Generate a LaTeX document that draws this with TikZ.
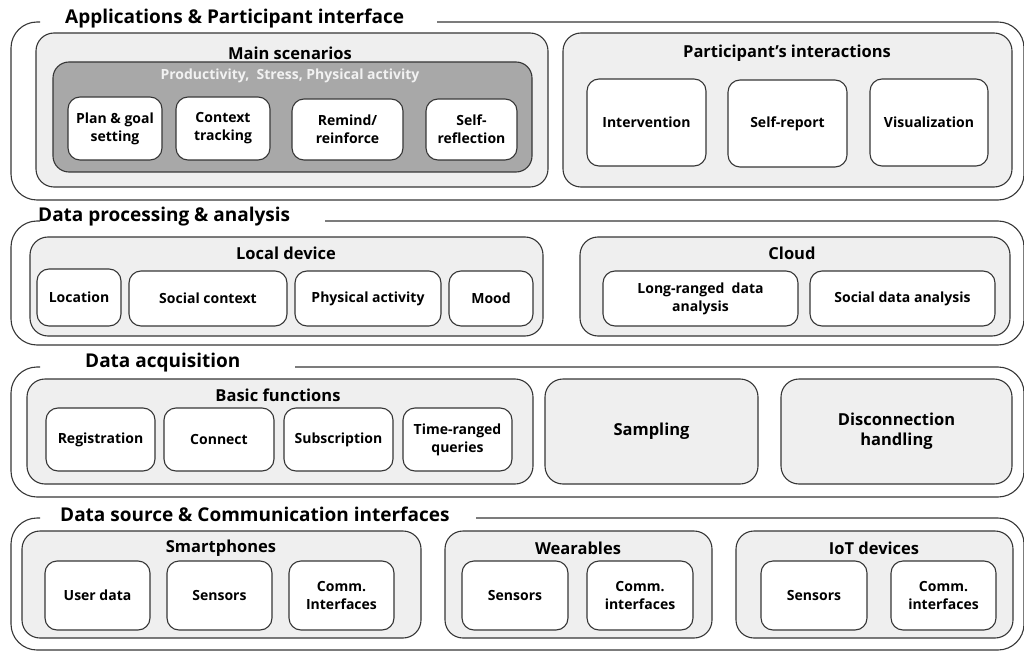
\documentclass[tikz,border=0pt]{standalone}
\usepackage{fontspec}
\setmainfont{Open Sans}
\definecolor{lc}{HTML}{363636}
\definecolor{lg}{HTML}{EFEFEF}
\definecolor{dg}{HTML}{A8A8A8}
\definecolor{lt}{HTML}{F2F2F2}
\newcommand\wb[6]{\node[wbox, minimum width={#4pt-#2pt}, minimum height={#5pt-#3pt}] (#1) at ({(#2+#4)/2},{(#3+#5)/2}) {#6};}
\newcommand\gb[7][grp]{\node[#1, minimum width={#5pt-#3pt}, minimum height={#6pt-#4pt}] (#2) at ({(#3+#5)/2},{(#4+#6)/2}) {#7};}
\begin{document}
\begin{tikzpicture}[x=1pt,y=-1pt,
  layer/.style={draw=lc, line width=1.1pt, rounded corners=26pt},
  grp/.style={draw=lc, fill=lg, line width=1.1pt, rounded corners=18pt, inner sep=0pt},
  grpt/.style={grp, align=center, font=\fontsize{16.5}{20}\selectfont\bfseries},
  dark/.style={draw=lc, fill=dg, line width=1.1pt, rounded corners=16pt, inner sep=0pt},
  wbox/.style={draw=lc, fill=white, line width=1.1pt, rounded corners=12pt, align=center, font=\fontsize{14}{18}\selectfont\bfseries, inner sep=0pt},
  ltitle/.style={font=\fontsize{19}{22}\selectfont\bfseries, inner sep=0pt, anchor=west},
  gtitle/.style={font=\fontsize{16.5}{19}\selectfont\bfseries, inner sep=0pt},
]
\useasboundingbox (0,0) rectangle (1024,652);
\clip (0,0) rectangle (1024,652);

% ---------- Layer 1 ----------
\node[ltitle] (t1) at (65,19) {Applications \& Participant interface};
\draw[layer] (437,22) -- (1024,22) -- (1024,200) -- (11,200) -- (11,22) -- (40,22);
\gb{ms}{36}{33}{548}{187}{}
\node[gtitle] (msl) at (290,53) {Main scenarios};
\gb[dark]{dk}{53}{62}{532}{172}{}
\node[gtitle, font=\fontsize{14}{16}\selectfont\bfseries, text=lt] (dkl) at (290,76) {Productivity,\ \ Stress, Physical activity};
\wb{pg}{68}{97}{162}{160}{Plan \&\ goal\\setting}
\wb{ct}{176}{97}{270}{160}{Context\\tracking}
\wb{rr}{292}{99}{403}{160}{Remind/\\reinforce}
\wb{sr}{426}{99}{517}{160}{Self-\\reflection}
\gb{pi}{563}{33}{1012}{187}{}
\node[gtitle] (pil) at (787,53) {Participant’s interactions};
\wb{iv}{587}{79}{706}{166}{Intervention}
\wb{srp}{728}{80}{847}{167}{Self-report}
\wb{vis}{870}{79}{988}{166}{Visualization}

% ---------- Layer 2 ----------
\node[ltitle] (t2) at (38,217) {Data processing \& analysis};
\draw[layer] (325,221) -- (1024,221) -- (1024,345) -- (11,345) -- (11,221) -- (40,221);
\gb{ld}{30}{237}{543}{336}{}
\node[gtitle] (ldl) at (286,253) {Local device};
\wb{loc}{37}{269}{121}{326}{Location}
\wb{soc}{129}{271}{287}{326}{Social context}
\wb{pa}{295}{271}{441}{326}{Physical activity}
\wb{mood}{449}{271}{533}{326}{Mood}
\gb{cl}{580}{237}{1010}{336}{}
\node[gtitle] (cll) at (792,253) {Cloud};
\wb{lr}{603}{271}{798}{326}{Long-ranged\ \ data\\analysis}
\wb{sda}{810}{271}{995}{326}{Social data analysis}

% ---------- Layer 3 ----------
\node[ltitle] (t3) at (85,363) {Data acquisition};
\draw[layer] (295,367) -- (1024,367) -- (1024,497) -- (11,497) -- (11,367) -- (40,367);
\gb{bf}{27}{379}{533}{484}{}
\node[gtitle] (bfl) at (278,395) {Basic functions};
\wb{reg}{46}{408}{155}{471}{Registration}
\wb{con}{164}{408}{274}{471}{Connect}
\wb{sub}{284}{408}{393}{471}{Subscription}
\wb{trq}{403}{408}{512}{471}{Time-ranged\\queries}
\gb[grpt]{smp}{545}{379}{758}{484}{Sampling}
\gb[grpt]{dis}{781}{379}{1012}{484}{Disconnection\\handling}

% ---------- Layer 4 ----------
\node[ltitle] (t4) at (60,514) {Data source \& Communication interfaces};
\draw[layer] (476,518) -- (1024,518) -- (1024,650) -- (11,650) -- (11,518) -- (40,518);
\gb{sp}{22}{531}{421}{638}{}
\node[gtitle] (spl) at (221,548) {Smartphones};
\wb{ud}{45}{561}{150}{630}{User data}
\wb{sen1}{167}{561}{272}{630}{Sensors}
\wb{ci1}{289}{561}{394}{630}{Comm.\\Interfaces}
\gb{we}{445}{531}{712}{638}{}
\node[gtitle] (wel) at (578,548) {Wearables};
\wb{sen2}{462}{561}{568}{630}{Sensors}
\wb{ci2}{587}{561}{693}{630}{Comm.\\interfaces}
\gb{iot}{736}{531}{1013}{638}{}
\node[gtitle] (iotl) at (874,548) {IoT devices};
\wb{sen3}{761}{561}{867}{630}{Sensors}
\wb{ci3}{891}{561}{996}{630}{Comm.\\interfaces}
\end{tikzpicture}
\end{document}
